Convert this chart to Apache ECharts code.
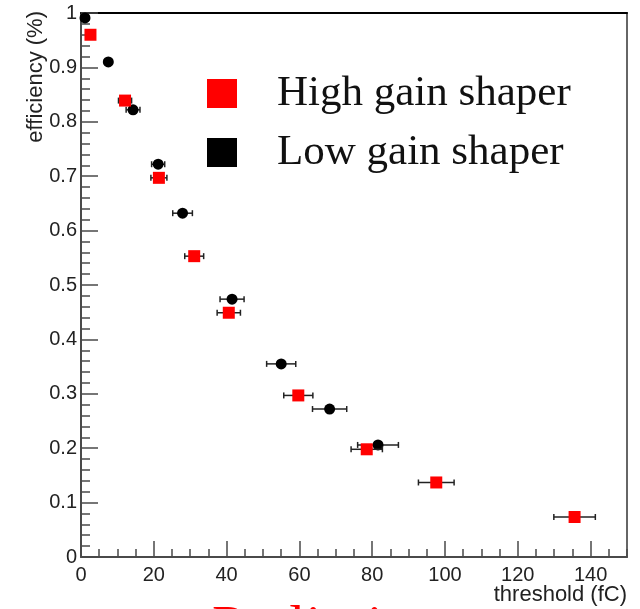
<!DOCTYPE html>
<html>
<head>
<meta charset="utf-8">
<script src="https://cdn.jsdelivr.net/npm/echarts@6/dist/echarts.min.js"></script>
<style>
  html, body { margin: 0; padding: 0; background: #ffffff; }
  #chart { width: 640px; height: 609px; }
</style>
</head>
<body>
<div id="chart"></div>
<script>
// Discriminator efficiency versus threshold charge for the two shaper gains
const seriesNames = ['High gain shaper', 'Low gain shaper'];

const highGainThreshold    = [2.6, 12.1, 21.4, 31.1, 40.6, 59.7, 78.5, 97.6, 135.6];
const highGainEfficiency   = [0.960, 0.839, 0.697, 0.553, 0.449, 0.297, 0.198, 0.137, 0.0735];
const highGainThresholdErr = [0.8, 1.8, 2.2, 2.6, 3.2, 4.0, 4.3, 4.9, 5.7];

const lowGainThreshold     = [1.1, 7.5, 14.3, 21.2, 27.9, 41.5, 55.0, 68.3, 81.6];
const lowGainEfficiency    = [0.991, 0.910, 0.822, 0.722, 0.632, 0.474, 0.355, 0.272, 0.206];
const lowGainThresholdErr  = [1.0, 1.0, 1.9, 1.8, 2.7, 3.3, 4.0, 4.7, 5.6];

const xAxisTitle = 'threshold (fC)';
const yAxisTitle = 'efficiency (%)';
const stampText  = 'Preliminary';

const axisColor = '#4a4a4a';
const labelFont = 'Liberation Sans, Arial, Helvetica, sans-serif';
const serifFont = 'Liberation Serif, Times New Roman, serif';

function zip3(a, b, c) {
  return a.map((v, i) => [v, b[i], c[i]]);
}

// Horizontal error bar with end caps, positioned through the axes
function errorBarItem(params, api) {
  const x = api.value(0), y = api.value(1), e = api.value(2);
  const l = api.coord([x - e, y]);
  const r = api.coord([x + e, y]);
  const cap = 3;
  const style = { stroke: '#222222', lineWidth: 1.5 };
  return {
    type: 'group',
    children: [
      { type: 'line', shape: { x1: l[0], y1: l[1], x2: r[0], y2: r[1] }, style: style },
      { type: 'line', shape: { x1: l[0], y1: l[1] - cap, x2: l[0], y2: l[1] + cap }, style: style },
      { type: 'line', shape: { x1: r[0], y1: r[1] - cap, x2: r[0], y2: r[1] + cap }, style: style }
    ]
  };
}

const hiddenAxisParts = {
  axisLabel: { show: false },
  splitLine: { show: false }
};

const chart = echarts.init(document.getElementById('chart'), null, { renderer: 'canvas' });

chart.setOption({
  animation: false,
  backgroundColor: '#ffffff',
  grid: { left: 81, right: 13, top: 13, bottom: 52 },
  xAxis: [
    {
      type: 'value', min: 0, max: 150, interval: 20, position: 'bottom',
      axisLine: { show: true, onZero: false, lineStyle: { color: axisColor, width: 2 } },
      axisTick: { show: true, inside: true, length: 16, lineStyle: { color: axisColor, width: 1.5 } },
      axisLabel: { showMaxLabel: false, margin: 8, color: '#222222', fontSize: 20, fontFamily: labelFont },
      splitLine: { show: false }
    },
    Object.assign({
      type: 'value', min: 0, max: 150, interval: 5, position: 'bottom',
      axisLine: { show: false, onZero: false },
      axisTick: { show: true, inside: true, length: 8, lineStyle: { color: axisColor, width: 1.5 } }
    }, hiddenAxisParts),
    Object.assign({
      type: 'value', min: 0, max: 150, position: 'top',
      axisLine: { show: true, onZero: false, lineStyle: { color: '#000000', width: 2 } },
      axisTick: { show: false }
    }, hiddenAxisParts)
  ],
  yAxis: [
    {
      type: 'value', min: 0, max: 1, interval: 0.1, position: 'left',
      axisLine: { show: true, onZero: false, lineStyle: { color: axisColor, width: 2 } },
      axisTick: { show: true, inside: true, length: 17, lineStyle: { color: axisColor, width: 1.5 } },
      axisLabel: { margin: 4, color: '#222222', fontSize: 20, fontFamily: labelFont },
      splitLine: { show: false }
    },
    Object.assign({
      type: 'value', min: 0, max: 1, interval: 0.02, position: 'left',
      axisLine: { show: false, onZero: false },
      axisTick: { show: true, inside: true, length: 9, lineStyle: { color: axisColor, width: 1.5 } }
    }, hiddenAxisParts),
    Object.assign({
      type: 'value', min: 0, max: 1, position: 'right',
      axisLine: { show: true, onZero: false, lineStyle: { color: '#666666', width: 2 } },
      axisTick: { show: false }
    }, hiddenAxisParts)
  ],
  legend: {
    orient: 'vertical',
    left: 207,
    top: 72,
    padding: 0,
    itemWidth: 30,
    itemHeight: 29,
    itemGap: 16,
    selectedMode: false,
    data: [
      { name: seriesNames[0], icon: 'rect' },
      { name: seriesNames[1], icon: 'rect' }
    ],
    textStyle: { fontFamily: serifFont, fontSize: 43, color: '#111111', padding: [13, 0, 0, 35] }
  },
  series: [
    {
      name: seriesNames[1] + ' errors',
      type: 'custom',
      renderItem: errorBarItem,
      encode: { x: 0, y: 1 },
      data: zip3(lowGainThreshold, lowGainEfficiency, lowGainThresholdErr),
      z: 2
    },
    {
      name: seriesNames[1],
      type: 'scatter',
      symbol: 'circle',
      symbolSize: 11,
      itemStyle: { color: '#000000', opacity: 1 },
      data: lowGainThreshold.map((x, i) => [x, lowGainEfficiency[i]]),
      z: 3
    },
    {
      name: seriesNames[0] + ' errors',
      type: 'custom',
      renderItem: errorBarItem,
      encode: { x: 0, y: 1 },
      data: zip3(highGainThreshold, highGainEfficiency, highGainThresholdErr),
      z: 4
    },
    {
      name: seriesNames[0],
      type: 'scatter',
      symbol: 'rect',
      symbolSize: 12,
      itemStyle: { color: '#ff0000', opacity: 1 },
      data: highGainThreshold.map((x, i) => [x, highGainEfficiency[i]]),
      z: 5
    }
  ],
  graphic: [
    {
      type: 'text',
      x: 36, y: 11,
      rotation: Math.PI / 2,
      style: {
        text: yAxisTitle, align: 'right', verticalAlign: 'middle',
        font: '22px ' + labelFont, fill: '#222222'
      }
    },
    {
      type: 'text',
      x: 627, y: 584,
      style: {
        text: xAxisTitle, align: 'right', verticalAlign: 'top',
        font: '22px ' + labelFont, fill: '#222222'
      }
    },
    {
      type: 'text',
      x: 212, y: 601,
      style: {
        text: stampText, align: 'left', verticalAlign: 'top',
        font: '58px ' + serifFont, fill: '#ff0000'
      }
    }
  ]
});
</script>
</body>
</html>
